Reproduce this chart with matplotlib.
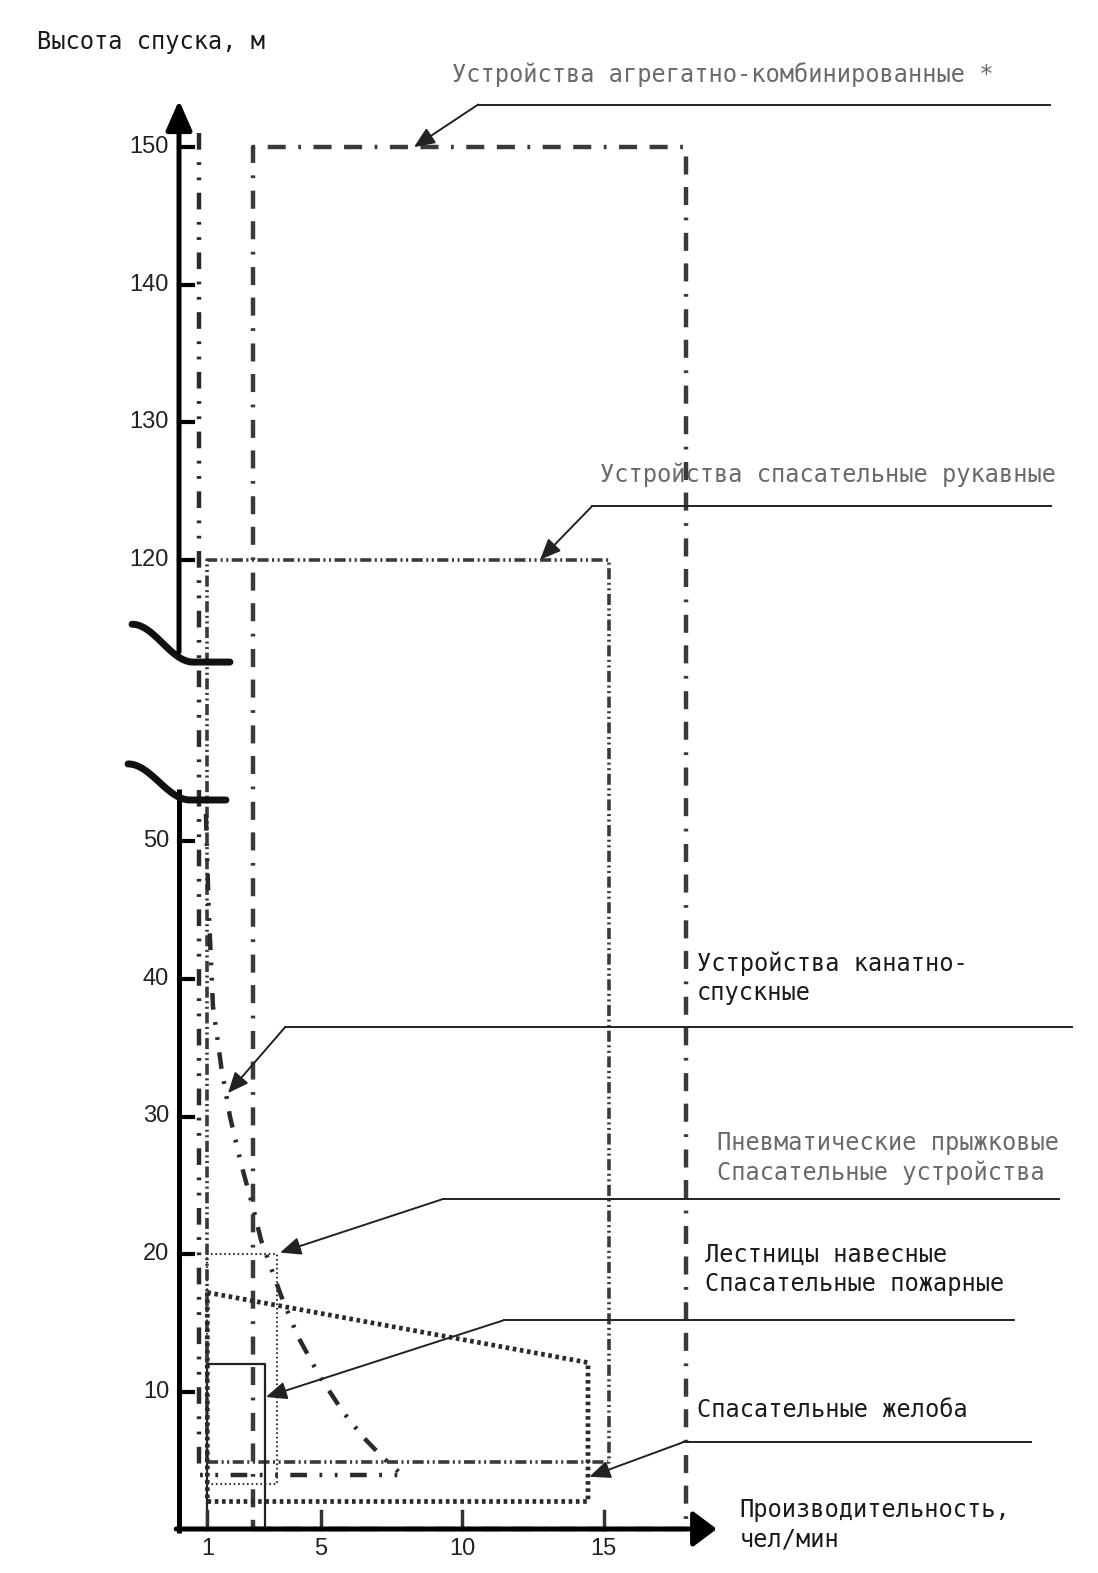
import numpy as np
import matplotlib
matplotlib.use("Agg")
import matplotlib.pyplot as plt
from matplotlib import font_manager as fm

plt.rcParams['lines.scale_dashes'] = False

# y axis is broken: 56.5 .. 111.5 squeezed into a short gap
Y_DATA = [-20, 56.5, 111.5, 250]
Y_DISP = [-20, 56.5, 62.0, 200.5]

# tick values
y_ticks = [10, 20, 30, 40, 50, 120, 130, 140, 150]
x_ticks = [1, 5, 10, 15]

# device areas (x = people per minute, y = height, m)
agg_x, agg_y = [2.6, 17.9], [0, 150]          # агрегатно-комбинированные
sleeve_x, sleeve_y = [1.0, 15.2], [4.85, 120]  # рукавные
ladder_x, ladder_y = [1.0, 3.05], [0, 12]      # лестницы
pneu_x, pneu_y = [1.0, 3.45], [3.3, 20]        # пневматические
chute_x = [1.0, 14.45, 14.45, 1.0, 1.0]        # желоба
chute_y = [17.2, 12.1, 2.0, 2.0, 17.2]
rope_x = [0.95, 1.05, 1.2, 1.5, 1.8, 2.2, 2.6, 2.9, 3.6, 4.2, 5.0, 5.8, 6.5, 7.2, 7.9]
rope_y = [52, 45, 38, 33.5, 30, 26.5, 23.5, 21, 17, 14, 11, 8.5, 6.7, 5.2, 3.9]
rope_edge_x = [0.7, 0.7, 7.9]
rope_edge_y = [151, 3.9, 3.9]

# callouts
labels = ["Устройства агрегатно-комбинированные *",
          "Устройства спасательные рукавные",
          "Устройства канатно-\nспускные",
          "Пневматические прыжковые\nСпасательные устройства",
          "Лестницы навесные\nСпасательные пожарные",
          "Спасательные желоба"]
label_x = [9.65, 14.88, 18.3, 19.0, 18.6, 18.3]
label_y = [155.25, 126.2, 40.07, 26.98, 18.87, 8.65]
label_col = ['#6a6a6a', '#6a6a6a', '#1a1a1a', '#6a6a6a', '#1a1a1a', '#1a1a1a']
tip_x = [8.3, 12.76, 1.73, 3.57, 3.07, 14.5]
tip_y = [150, 120, 31.7, 20.1, 9.6, 3.8]
elbow_x = [10.57, 14.6, 3.75, 9.33, 11.5, 17.8]
elbow_y = [153.1, 123.9, 36.5, 24.0, 15.2, 6.3]
end_x = [30.78, 30.8, 31.55, 31.1, 29.5, 30.1]


def fwd(y):
    return np.interp(y, Y_DATA, Y_DISP)


def inv(u):
    return np.interp(u, Y_DISP, Y_DATA)


def box(xs, ys):
    return ([xs[0], xs[1], xs[1], xs[0], xs[0]],
            [ys[0], ys[0], ys[1], ys[1], ys[0]])


names = {f.name for f in fm.fontManager.ttflist}
if 'Liberation Sans Narrow' in names:
    num_font, num_size = 'Liberation Sans Narrow', 19
else:
    num_font, num_size = 'Liberation Sans', 17
mono = 'DejaVu Sans Mono'

fig = plt.figure(figsize=(10.98, 15.73), dpi=100)
ax = fig.add_axes([0, 0, 1, 1])
ax.set_yscale('function', functions=(fwd, inv))
ax.set_xlim(-6.325, 32.47)
ax.set_ylim(-3.2, 160.7)
ax.axis('off')

# areas
ax.plot(*box(agg_x, agg_y), color='#3a3a3a', lw=3.2,
        linestyle=(0, (13, 9, 13, 9, 2, 9)))
ax.plot(*box(sleeve_x, sleeve_y), color='#3a3a3a', lw=2.6,
        linestyle=(0, (8, 2.5, 1.5, 2.5, 1.5, 2.5)))
ax.plot(*box(ladder_x, ladder_y), color='#222222', lw=1.6)
ax.plot(*box(pneu_x, pneu_y), color='#333333', lw=1.5, linestyle=(0, (1.2, 2)))
ax.plot(chute_x, chute_y, color='#2a2a2a', lw=3.4, linestyle=(0, (2.6, 2.6)))
ax.plot(rope_x, rope_y, color='#2a2a2a', lw=3.2, linestyle=(0, (12, 9, 2, 9, 2, 9)))
ax.plot(rope_edge_x, rope_edge_y, color='#2a2a2a', lw=3.2,
        linestyle=(0, (12, 9, 2, 9, 2, 9)))

# axes lines
ax.plot([0, 0], [-0.3, 53.8], color='k', lw=3.6, solid_capstyle='butt')
ax.annotate('', xy=(0, 153.4), xytext=(0, 113.3),
            arrowprops=dict(arrowstyle='-|>,head_length=0.5,head_width=0.22',
                            lw=3.6, color='k', mutation_scale=36, shrinkA=0, shrinkB=0))
ax.annotate('', xy=(19.0, 0), xytext=(-0.1, 0),
            arrowprops=dict(arrowstyle='-|>,head_length=0.4,head_width=0.3',
                            lw=3.6, color='k', mutation_scale=36, shrinkA=0, shrinkB=0))

# axis break marks
for y_hi, y_lo, x0, x1, x2 in [(115.3, 112.55, -1.66, 0.5, 1.8),
                               (55.64, 53.02, -1.8, 0.39, 1.66)]:
    t = np.linspace(0, 1, 60)
    bx = np.concatenate([x0 + (x1 - x0) * t, [x2]])
    by = np.concatenate([y_lo + (y_hi - y_lo) * (1 + np.cos(np.pi * t)) / 2, [y_lo]])
    ax.plot(bx, by, color='#111111', lw=5, solid_capstyle='round')

# ticks
for t in y_ticks:
    ax.plot([0, 0.5], [t, t], color='k', lw=3)
    ax.text(-0.35, t, str(t), ha='right', va='center', fontsize=num_size,
            family=num_font, color='#222222')
for t in x_ticks:
    ax.plot([t, t], [0, 1.3], color='#333333', lw=2.5)
    ax.text(t, -1.45, str(t), ha='center', va='center', fontsize=num_size,
            family=num_font, color='#222222')

# titles
ax.text(-5.02, 157.65, 'Высота спуска, м', ha='left', va='center',
        fontsize=17, family=mono, color='#1a1a1a')
ax.text(19.8, 0.29, 'Производительность,\nчел/мин', ha='left', va='center',
        fontsize=17, family=mono, color='#1a1a1a', linespacing=1.27)

# callouts
for i, lab in enumerate(labels):
    ax.text(label_x[i], label_y[i], lab, ha='left', va='center', fontsize=17,
            family=mono, color=label_col[i], linespacing=1.27)
    ax.plot([elbow_x[i], end_x[i]], [elbow_y[i], elbow_y[i]], color='#222222', lw=1.4)
    ax.annotate('', xy=(tip_x[i], tip_y[i]), xytext=(elbow_x[i], elbow_y[i]),
                arrowprops=dict(arrowstyle='-|>,head_length=0.7,head_width=0.3',
                                lw=1.4, color='#222222', mutation_scale=18,
                                shrinkA=0, shrinkB=0))

fig.savefig('out.png', dpi=100)
